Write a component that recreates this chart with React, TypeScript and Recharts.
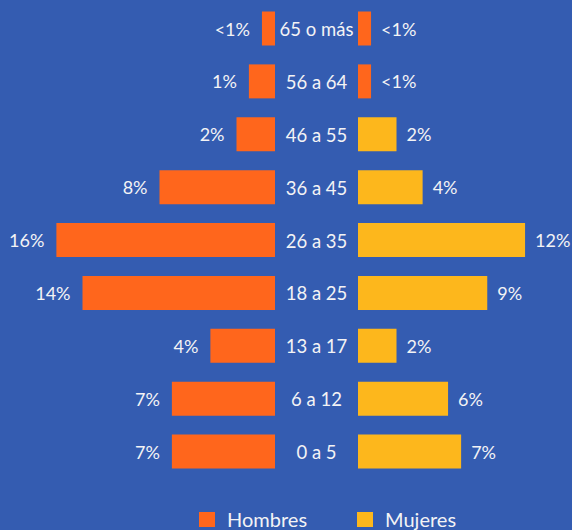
import React from 'react';
import { BarChart, Bar, XAxis, YAxis, Cell, LabelList } from 'recharts';

const CATEGORIES = ['65 o más', '56 a 64', '46 a 55', '36 a 45', '26 a 35', '18 a 25', '13 a 17', '6 a 12', '0 a 5'];
const HOMBRES = [0.95, 1.9, 2.8, 8.4, 15.9, 14.0, 4.7, 7.5, 7.5];
const MUJERES = [0.95, 0.95, 2.8, 4.7, 12.15, 9.4, 2.8, 6.55, 7.5];
const HOMBRES_LABELS = ['<1%', '1%', '2%', '8%', '16%', '14%', '4%', '7%', '7%'];
const MUJERES_LABELS = ['<1%', '<1%', '2%', '4%', '12%', '9%', '2%', '6%', '7%'];
const SERIES = ['Hombres', 'Mujeres'];

const BG = '#345CB1';
const ORANGE = '#FF661C';
const YELLOW = '#FDB71C';
const TEXT = '#F3F3F5';
const FONT = 'Lato, "Noto Sans", sans-serif';
const WEIGHT = 400;
const MUJERES_COLORS = [ORANGE, ORANGE, YELLOW, YELLOW, YELLOW, YELLOW, YELLOW, YELLOW, YELLOW];

const data = CATEGORIES.map((cat, i) => ({
  cat,
  h: HOMBRES[i],
  m: MUJERES[i],
  hl: HOMBRES_LABELS[i],
  ml: MUJERES_LABELS[i],
}));

const W = 572;
const H = 530;
const CHART_H = 480;
const LEFT_W = 358;
const GUTTER = 83;
const RIGHT_W = W - LEFT_W;
const PX_PER_UNIT = 13.75;
const MARGIN = { top: 2.5, right: 0, bottom: 1.5, left: 0 };

const CatTick = (props: any) => {
  const { y, payload } = props;
  return (
    <text x={LEFT_W - GUTTER / 2} y={y} textAnchor="middle" dominantBaseline="central" fill={TEXT} fontSize={18.5} fontWeight={WEIGHT} fontFamily={FONT}>
      {payload.value}
    </text>
  );
};

const LeftLabel = (props: any) => {
  const { x, y, width, height, value } = props;
  const minX = Math.min(x, x + width);
  return (
    <text x={minX - 12} y={y + height / 2} textAnchor="end" dominantBaseline="central" fill={TEXT} fontSize={18} fontWeight={WEIGHT} fontFamily={FONT}>
      {value}
    </text>
  );
};

const RightLabel = (props: any) => {
  const { x, y, width, height, value } = props;
  const maxX = Math.max(x, x + width);
  return (
    <text x={maxX + 10} y={y + height / 2} textAnchor="start" dominantBaseline="central" fill={TEXT} fontSize={18} fontWeight={WEIGHT} fontFamily={FONT}>
      {value}
    </text>
  );
};

export default function App() {
  return (
    <div style={{ position: 'fixed', left: 0, top: 0, width: W, height: H, background: BG, overflow: 'hidden', fontFamily: FONT }}>
      <div style={{ position: 'absolute', left: 0, top: 0 }}>
        <BarChart width={LEFT_W} height={CHART_H} data={data} layout="vertical" margin={MARGIN}>
          <XAxis type="number" domain={[0, (LEFT_W - GUTTER) / PX_PER_UNIT]} reversed hide />
          <YAxis type="category" dataKey="cat" orientation="right" width={GUTTER} axisLine={false} tickLine={false} tick={CatTick} interval={0} />
          <Bar dataKey="h" fill={ORANGE} barSize={34} isAnimationActive={false}>
            <LabelList dataKey="hl" content={LeftLabel} />
          </Bar>
        </BarChart>
      </div>
      <div style={{ position: 'absolute', left: LEFT_W, top: 0 }}>
        <BarChart width={RIGHT_W} height={CHART_H} data={data} layout="vertical" margin={MARGIN}>
          <XAxis type="number" domain={[0, RIGHT_W / PX_PER_UNIT]} hide />
          <YAxis type="category" dataKey="cat" hide />
          <Bar dataKey="m" fill={YELLOW} barSize={34} isAnimationActive={false}>
            {data.map((d, i) => (
              <Cell key={d.cat} fill={MUJERES_COLORS[i]} />
            ))}
            <LabelList dataKey="ml" content={RightLabel} />
          </Bar>
        </BarChart>
      </div>
      <div style={{ position: 'absolute', left: 199, top: 505, display: 'flex', alignItems: 'center', height: 28, color: TEXT, fontSize: 20, fontWeight: WEIGHT, fontFamily: FONT }}>
        {SERIES.map((s, i) => (
          <div key={s} style={{ display: 'flex', alignItems: 'center', marginRight: i === 0 ? 50 : 0 }}>
            <div style={{ width: 16, height: 15, background: i === 0 ? ORANGE : YELLOW, marginRight: 12 }} />
            <span style={{ lineHeight: '28px' }}>{s}</span>
          </div>
        ))}
      </div>
    </div>
  );
}
